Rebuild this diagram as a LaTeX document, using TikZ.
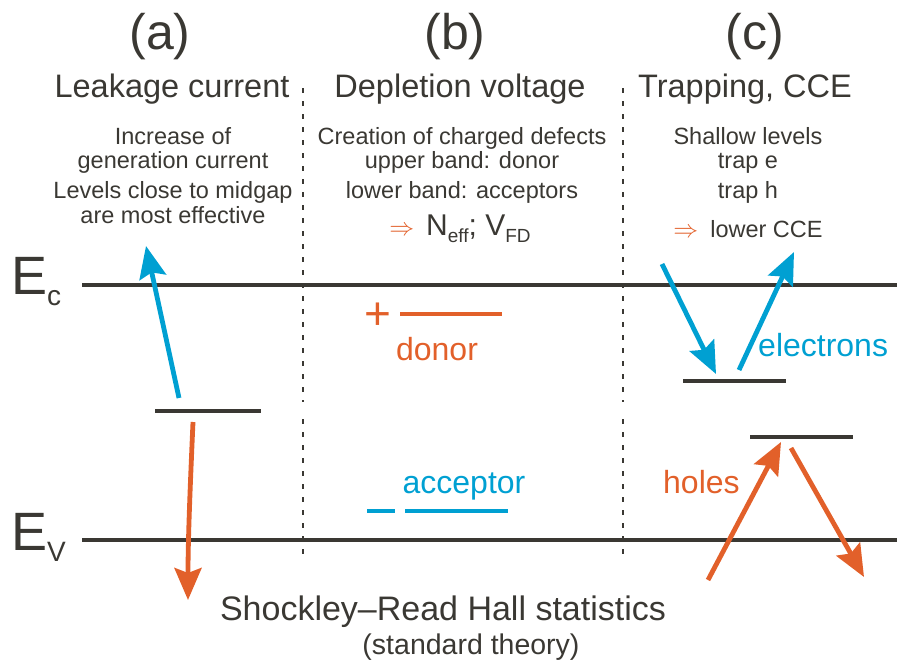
\documentclass[tikz,border=0pt]{standalone}
\usepackage{fontspec}
\setmainfont{Liberation Sans}
\usetikzlibrary{arrows.meta}
\definecolor{ink}{RGB}{58,56,51}
\definecolor{eblue}{RGB}{0,160,210}
\definecolor{horange}{RGB}{226,96,42}
\tikzset{
  band/.style={draw=ink,line width=4pt},
  level/.style={draw=ink,line width=4pt},
  divider/.style={draw=ink,line width=2pt,dash pattern=on 5pt off 8pt},
  head/.style={font=\fontsize{50}{56}\selectfont,text=ink,inner sep=0pt},
  title/.style={font=\fontsize{32.5}{36}\selectfont,text=ink,inner sep=0pt},
  note/.style={font=\fontsize{23.5}{27}\selectfont,text=ink,inner sep=0pt},
  tag/.style={font=\fontsize{32}{36}\selectfont,inner sep=0pt},
  bigE/.style={font=\fontsize{54}{60}\selectfont,text=ink,inner sep=0pt,anchor=base west},
  jump/.style={line width=4.8pt,-{Stealth[length=32pt,width=27pt,inset=5pt]}},
}
\begin{document}
\begin{tikzpicture}[x=1pt,y=-1pt]
\useasboundingbox (0,0) rectangle (897,669);

% column headings
\node[head] (ha) at (160,37) {(a)};
\node[head] (hb) at (455,37) {(b)};
\node[head] (hc) at (755,37) {(c)};
\node[title,anchor=base] (ta) at (172,98) {Leakage current};
\node[title,anchor=base] (tb) at (460,98) {Depletion voltage};
\node[title,anchor=base] (tc) at (745,98) {Trapping, CCE};

% explanatory notes
\node[note,anchor=base] (a1) at (173,144) {Increase of};
\node[note,anchor=base] (a2) at (173,168) {generation current};
\node[note,anchor=base] (a3) at (173,198) {Levels close to midgap};
\node[note,anchor=base] (a4) at (173,223) {are most effective};

\node[note,anchor=base] (b1) at (462,144) {Creation of charged defects};
\node[note,anchor=base] (b2) at (462,168) {upper band: donor};
\node[note,anchor=base] (b3) at (462,198) {lower band: acceptors};
\node[anchor=base,inner sep=0pt,text=ink] (b4) at (460,235)
  {\textcolor{horange}{\fontsize{26}{30}\selectfont$\Rightarrow$}\hspace{12pt}%
   \fontsize{30}{34}\selectfont N\raisebox{-7pt}{\fontsize{19}{22}\selectfont eff};
   V\raisebox{-7pt}{\fontsize{19}{22}\selectfont FD}};

\node[note,anchor=base] (c1) at (748,144) {Shallow levels};
\node[note,anchor=base] (c2) at (748,168) {trap e};
\node[note,anchor=base] (c3) at (748,198) {trap h};
\node[anchor=base,inner sep=0pt,text=ink] (c4) at (748,237)
  {\textcolor{horange}{\fontsize{24}{28}\selectfont$\Rightarrow$}\hspace{12pt}%
   \fontsize{23.5}{27}\selectfont lower CCE};

% band edges
\node[bigE] (Ec) at (11,294) {E\raisebox{-11pt}{\fontsize{28}{32}\selectfont c}};
\node[bigE] (Ev) at (11,550) {E\raisebox{-11pt}{\fontsize{28}{32}\selectfont V}};
\coordinate (ecL) at (82,285);  \coordinate (ecR) at (897,285);
\coordinate (evL) at (82,540);  \coordinate (evR) at (897,540);
\draw[band] (ecL) -- (ecR);
\draw[band] (evL) -- (evR);

% column dividers
\foreach \x/\n in {303/l,623/r}{
  \coordinate (d\n1) at (\x,88);  \coordinate (d\n2) at (\x,402);
  \coordinate (d\n3) at (\x,419); \coordinate (d\n4) at (\x,560);
  \draw[divider] (d\n1) -- (d\n2);
  \draw[divider] (d\n3) -- (d\n4);
}

% (a) midgap level with generation
\coordinate (mgL) at (155,411); \coordinate (mgR) at (261,411);
\draw[level] (mgL) -- (mgR);
\coordinate (ga0) at (179,398); \coordinate (ga1) at (146,246);
\draw[jump,eblue] (ga0) -- (ga1);
\coordinate (gh0) at (193,422); \coordinate (gh1) at (188,600);
\draw[jump,horange] (gh0) .. controls (190,490) and (188,540) .. (gh1);

% (b) charged defect levels
\coordinate (dnL) at (400,314); \coordinate (dnR) at (502,314);
\draw[line width=4pt,horange] (dnL) -- (dnR);
\node[font=\fontsize{46}{48}\selectfont,text=horange,inner sep=0pt] (plus) at (378,316) {+};
\node[tag,text=horange,anchor=base] (dlab) at (437,360) {donor};
\coordinate (acL) at (405,511); \coordinate (acR) at (508,511);
\coordinate (mnL) at (367,511); \coordinate (mnR) at (395,511);
\draw[line width=4pt,eblue] (acL) -- (acR);
\draw[line width=4pt,eblue] (mnL) -- (mnR);
\node[tag,text=eblue,anchor=base] (alab) at (464,493) {acceptor};

% (c) shallow trap levels
\coordinate (teL) at (683,381); \coordinate (teR) at (786,381);
\coordinate (thL) at (750,437); \coordinate (thR) at (853,437);
\draw[level] (teL) -- (teR);
\draw[level] (thL) -- (thR);
\coordinate (e0) at (662,264); \coordinate (e1) at (716,374);
\coordinate (e2) at (739,370); \coordinate (e3) at (794,252);
\draw[jump,eblue] (e0) -- (e1);
\draw[jump,eblue] (e2) -- (e3);
\node[tag,text=eblue,anchor=base west] (elab) at (758,356) {electrons};
\coordinate (h0) at (708,580); \coordinate (h1) at (781,442);
\coordinate (h2) at (791,448); \coordinate (h3) at (864,577);
\draw[jump,horange] (h0) -- (h1);
\draw[jump,horange] (h2) -- (h3);
\node[tag,text=horange,anchor=base west] (hlab) at (663,493) {holes};

% caption
\node[font=\fontsize{34}{38}\selectfont,text=ink,anchor=base,inner sep=0pt] (srh) at (443,620) {Shockley--Read Hall statistics};
\node[font=\fontsize{28.5}{32}\selectfont,text=ink,anchor=base,inner sep=0pt] (std) at (471,654) {(standard theory)};
\end{tikzpicture}
\end{document}
